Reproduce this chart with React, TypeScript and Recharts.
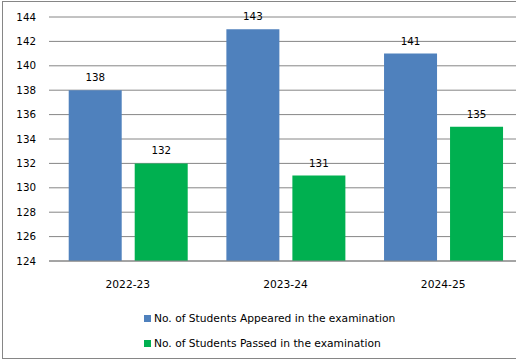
import React from "react";
import {
  BarChart,
  Bar,
  XAxis,
  YAxis,
  CartesianGrid,
  LabelList
} from "recharts";

const years = ["2022-23", "2023-24", "2024-25"];
const appeared = [138, 143, 141];
const passed = [132, 131, 135];
const yTicks = [124, 126, 128, 130, 132, 134, 136, 138, 140, 142, 144];

const seriesNames = [
  "No. of Students Appeared in the examination",
  "No. of Students Passed in the examination"
];
const seriesColors = ["#4f81bd", "#00b050"];

const data = years.map((year, i) => ({
  year,
  appeared: appeared[i],
  passed: passed[i]
}));

const FONT = "'DejaVu Sans', Verdana, sans-serif";
const GRID = "#868686";

export default function App() {
  return (
    <div
      style={{
        position: "absolute",
        left: 0,
        top: 0,
        width: 516,
        height: 362,
        overflow: "hidden",
        background: "#fff",
        fontFamily: FONT
      }}
    >
      {/* outer frame, right edge falls outside the picture */}
      <div
        style={{
          position: "absolute",
          left: 2,
          top: 1,
          width: 600,
          height: 356,
          border: `1px solid ${GRID}`
        }}
      />
      <div style={{ position: "absolute", left: 0, top: 0 }}>
        <BarChart
          width={522}
          height={362}
          data={data}
          margin={{ top: 17, right: 0, left: 0, bottom: 71 }}
          barCategoryGap="12.5%"
          barGap={13}
        >
          <CartesianGrid vertical={false} stroke={GRID} strokeWidth={1} />
          <XAxis
            dataKey="year"
            height={30}
            tickLine={false}
            tickSize={0}
            tickMargin={19}
            axisLine={{ stroke: GRID }}
            tick={{ fill: "#000", fontSize: 10.7, fontFamily: FONT }}
          />
          <YAxis
            width={49}
            domain={[124, 144]}
            ticks={yTicks}
            interval={0}
            tickLine={false}
            axisLine={false}
            tickSize={0}
            tickMargin={13}
            tick={{ fill: "#000", fontSize: 10.3, fontFamily: FONT }}
          />
          <Bar dataKey="appeared" fill={seriesColors[0]} isAnimationActive={false}>
            <LabelList
              dataKey="appeared"
              position="top"
              offset={9}
              fill="#000"
              fontSize={10.3}
              fontFamily={FONT}
            />
          </Bar>
          <Bar dataKey="passed" fill={seriesColors[1]} isAnimationActive={false}>
            <LabelList
              dataKey="passed"
              position="top"
              offset={9}
              fill="#000"
              fontSize={10.3}
              fontFamily={FONT}
            />
          </Bar>
        </BarChart>
      </div>
      <div
        style={{
          position: "absolute",
          left: 144,
          top: 306,
          fontSize: 10.7,
          color: "#000",
          lineHeight: "25px"
        }}
      >
        {seriesNames.map((name, i) => (
          <div key={name} style={{ display: "flex", alignItems: "center", height: 25 }}>
            <span
              style={{
                display: "inline-block",
                width: 7,
                height: 7,
                marginRight: 3,
                background: seriesColors[i]
              }}
            />
            <span>{name}</span>
          </div>
        ))}
      </div>
    </div>
  );
}
